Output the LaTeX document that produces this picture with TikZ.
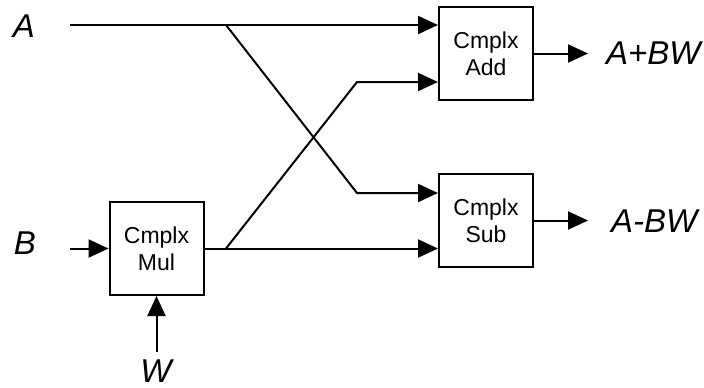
\documentclass[tikz,border=0pt]{standalone}
\usepackage{fontspec}
\setmainfont{Liberation Sans}
\usetikzlibrary{arrows.meta,positioning}

\begin{document}
\begin{tikzpicture}[
        x=0.5pt, y=-0.5pt,
        line width=1pt,
        >={Triangle[length=10pt,width=9pt]},
        block/.style={draw, line width=1pt, minimum width=47pt, minimum height=46.5pt, inner sep=0pt, align=center, font=\fontsize{11.5}{13.5}\selectfont},
        sig/.style={font=\fontsize{16.5}{19}\selectfont\itshape, inner sep=0pt},
    ]
        \useasboundingbox (0,0) rectangle (704,387);

        \node[block] (add) at (486,53.5) {Cmplx\\Add};
        \node[block] (sub) at (486,220.5) {Cmplx\\Sub};
        \node[block] (mul) at (156.5,248.5) {Cmplx\\Mul};

        \node[sig] (a) at (24,26) {A};
        \node[sig] (b) at (25,243) {B};
        \node[sig] (w) at (156,371) {W};
        \node[sig, anchor=west] (sum) at (605,53) {A+BW};
        \node[sig, anchor=west] (diff) at (610,221) {A-BW};

        % wire ends and butterfly corners
        \coordinate (a0) at (70,25);
        \coordinate (b0) at (70,248.5);
        \coordinate (w0) at (156.5,352);
        \coordinate (ja) at (226,25);
        \coordinate (jb) at (226,248.5);
        \coordinate (ca) at (357,82);
        \coordinate (cs) at (357,193);
        \coordinate (so) at (588,53.5);
        \coordinate (do) at (588,220.5);

        \draw[->] (a0) -- (a0 -| add.west);
        \draw[->] (ja) -- (cs) -- (cs -| sub.west);
        \draw[->] (b0) -- (mul.west);
        \draw[->] (w0) -- (mul.south);
        \draw[->] (mul.east) -- (mul.east -| sub.west);
        \draw[->] (jb) -- (ca) -- (ca -| add.west);
        \draw[->] (add.east) -- (so);
        \draw[->] (sub.east) -- (do);
    \end{tikzpicture}
\end{document}
